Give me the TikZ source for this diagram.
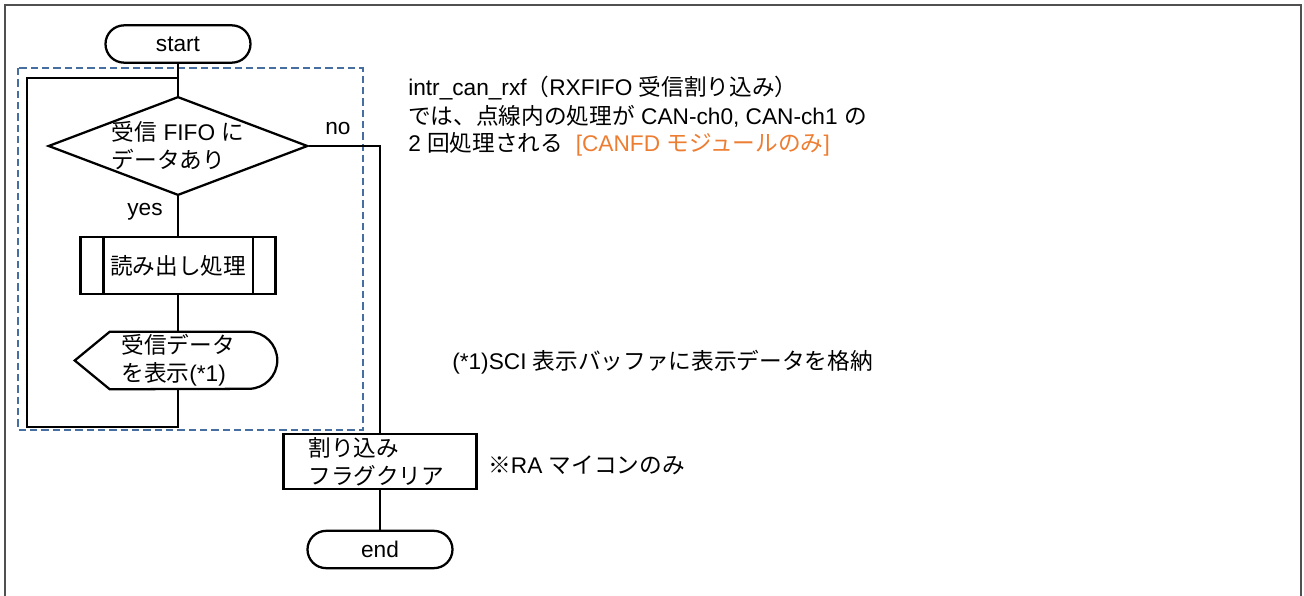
\documentclass[tikz,border=0pt]{standalone}
\usepackage{fontspec}
\setmainfont{Liberation Sans}
\newfontfamily\jpfont{Noto Sans CJK JP}
\newcommand{\jt}[1]{{\jpfont #1}}
\usetikzlibrary{shapes.geometric,shapes.misc}
\definecolor{dashblue}{RGB}{70,110,160}
\definecolor{noteorange}{RGB}{237,125,49}
\definecolor{framegray}{RGB}{80,80,80}
\tikzset{
  every node/.style={font=\fontsize{17}{21}\selectfont},
  line/.style={line width=1.7pt, black},
  term/.style={rounded rectangle, draw, line width=1.7pt, minimum width=108.75pt, minimum height=28pt, inner sep=0pt},
  dec/.style={diamond, draw, line width=1.7pt, minimum width=193.5pt, minimum height=73.5pt, aspect=2.63, inner sep=0pt, align=left},
  subbox/.style={rectangle, draw, line width=1.7pt, minimum width=146.25pt, minimum height=42.75pt, inner sep=0pt},
  dispbox/.style={rectangle, minimum width=151.5pt, minimum height=42.75pt, inner sep=0pt, align=left},
  procbox/.style={rectangle, draw, line width=1.7pt, minimum width=144.75pt, minimum height=41.25pt, inner xsep=18.75pt, inner ysep=0pt, text width=107.25pt, align=left},
  lbl/.style={inner sep=0pt},
  note/.style={inner sep=0pt, anchor=base west},
}
\begin{document}
\begin{tikzpicture}[x=0.75pt, y=-0.75pt]
\useasboundingbox (0,0) rectangle (1304,596);
% outer frame
\draw[framegray, line width=1.3pt] (5,596) -- (5,5) -- (1301,5) -- (1301,596);
% dashed group
\draw[dashblue, line width=1.6pt, dash pattern=on 5.5pt off 3pt] (18,68) rectangle (363,430);
% nodes
\node[term] (start) at (178,44) {start};
\node[dec] (dec) at (178,146) {\jt{受信} FIFO \jt{に}\\\jt{データあり}};
\node[subbox] (sub) at (178,265.5) {\jt{読み出し処理}};
\draw[line] ([xshift=18pt]sub.north west) -- ([xshift=18pt]sub.south west);
\draw[line] ([xshift=-18pt]sub.north east) -- ([xshift=-18pt]sub.south east);
\node[dispbox] (disp) at (176,360.5) {\hspace*{3pt}\jt{受信データ}\\\hspace*{3pt}\jt{を表示}(*1)};
\draw[line] (disp.west) -- ([xshift=26.25pt]disp.north west) -- ([xshift=-21.4pt]disp.north east)
  arc[start angle=90, end angle=-90, radius=21.4pt] -- ([xshift=26.25pt]disp.south west) -- cycle;
\node[procbox] (proc) at (380,461.5) {\jt{割り込み}\\\jt{フラグクリア}};
\node[term] (end) at (380,549.5) {end};
% labels
\node[lbl] (no) at (338,129) {no};
\node[lbl] (yes) at (145,212) {yes};
% connectors
\coordinate (ret) at (178,78);
\coordinate (lb) at (27,427);
\draw[line] (start.south) -- (dec.north);
\draw[line] (dec.south) -- (sub.north);
\draw[line] (sub.south) -- (disp.north -| sub.south);
\draw[line] (disp.south -| sub.south) |- (lb) |- (ret);
\draw[line] (dec.east) -| (proc.north);
\draw[line] (proc.south) -- (end.north);
% notes
\node[note] (ann1) at (408,95) {intr\_can\_rxf\jt{（}RXFIFO \jt{受信割り込み）}};
\node[note] (ann2) at (408,124) {\jt{では、点線内の処理が} CAN-ch0, CAN-ch1 \jt{の}};
\node[note] (ann3) at (408,151) {2 \jt{回処理される}\ \ \textcolor{noteorange}{[CANFD \jt{モジュールのみ}]}};
\node[note] (ann4) at (452,369) {(*1)SCI \jt{表示バッファに表示データを格納}};
\node[note] (ann5) at (488,473) {\jt{※}RA \jt{マイコンのみ}};
\end{tikzpicture}
\end{document}
